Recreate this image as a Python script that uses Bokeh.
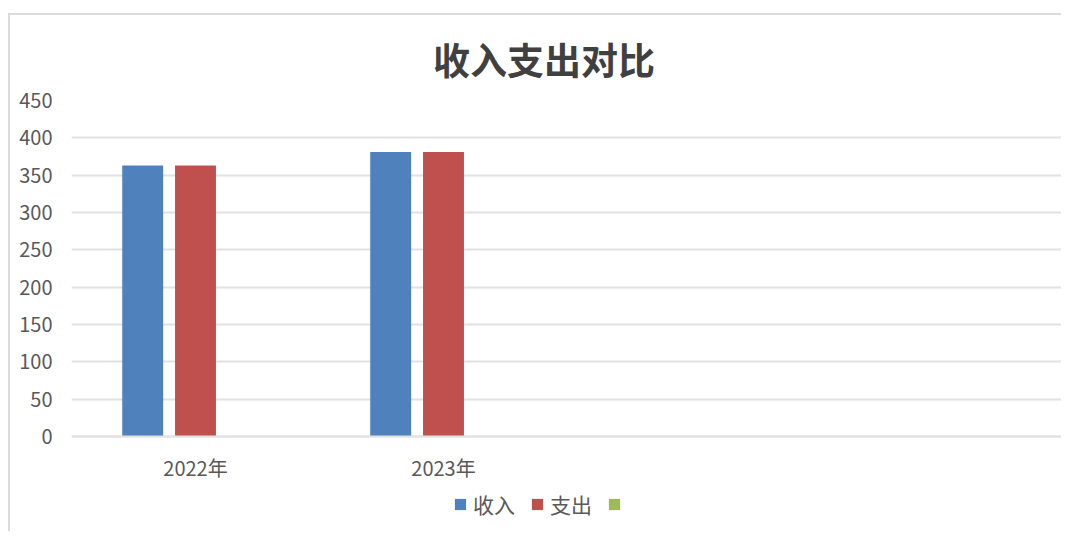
from bokeh.plotting import figure
from bokeh.models import (FactorRange, Range1d, FixedTicker, Legend,
                          LegendItem, ColumnDataSource)
from bokeh.transform import dodge
from bokeh.embed import file_html
from bokeh.resources import INLINE

# ---- data ----
categories = ["2022年", "2023年", " ", "  "]
years = ["2022年", "2023年"]
income = [363, 381]      # 收入
expense = [363, 381]     # 支出
third = [0, 0]           # third (unnamed) series: no visible values
series_names = ["收入", "支出", ""]
colors = ["#4F81BD", "#C0504D", "#9BBB59"]
y_ticks = [0, 50, 100, 150, 200, 250, 300, 350, 400, 450]
title_text = "收入支出对比"

FONT = "Noto Sans CJK SC"
TEXT_COLOR = "#595959"
GRID_COLOR = "#e2e2e2"

# frame: 450 at top, 0 at 337px below; frame extends 89px further down to hold
# the x labels and the legend
y_max = y_ticks[-1]
y_min = y_max - 426 * y_max / 337

p = figure(x_range=FactorRange(*categories), y_range=Range1d(y_min, y_max),
           width=1053, height=518, output_backend="svg", toolbar_location=None,
           min_border_left=61, min_border_right=0, min_border_top=84,
           min_border_bottom=8)
p.styles = {"border-left": "2px solid #dcdcdc", "border-top": "2px solid #dcdcdc",
            "margin-top": "13px", "margin-left": "8px"}
p.outline_line_color = None

# title
p.title.text = title_text
p.title.align = "center"
p.title.padding = (0, 47, 0, 0)
p.title.standoff = 29
p.title.text_font = FONT
p.title.text_font_size = "37px"
p.title.text_font_style = "bold"
p.title.text_color = "#404040"

src_inc = ColumnDataSource(dict(x=years, y=income))
src_exp = ColumnDataSource(dict(x=years, y=expense))
src_3 = ColumnDataSource(dict(x=years, y=third))

pitch = 0.213
bw = 0.165
r1 = p.vbar(x=dodge("x", -pitch, range=p.x_range), top="y", width=bw, source=src_inc,
            fill_color=colors[0], line_color=None)
r2 = p.vbar(x=dodge("x", 0, range=p.x_range), top="y", width=bw, source=src_exp,
            fill_color=colors[1], line_color=None)
r3 = p.vbar(x=dodge("x", pitch, range=p.x_range), top="y", width=bw, source=src_3,
            fill_color=colors[2], line_color=None)

# axes
p.yaxis.ticker = FixedTicker(ticks=y_ticks)
p.yaxis.axis_line_color = None
p.yaxis.major_tick_line_color = None
p.yaxis.minor_tick_line_color = None
p.yaxis.major_label_standoff = 13
p.yaxis.major_label_text_font = FONT
p.yaxis.major_label_text_font_size = "20px"
p.yaxis.major_label_text_color = TEXT_COLOR

p.xaxis.fixed_location = 0
p.xaxis.axis_line_color = GRID_COLOR
p.xaxis.axis_line_width = 2
p.xaxis.major_tick_line_color = None
p.xaxis.minor_tick_line_color = None
p.xaxis.major_label_standoff = 10
p.xaxis.major_label_text_font = FONT
p.xaxis.major_label_text_font_size = "20px"
p.xaxis.major_label_text_color = TEXT_COLOR

p.xgrid.grid_line_color = None
p.ygrid.grid_line_color = GRID_COLOR
p.ygrid.grid_line_width = 2

legend = Legend(items=[LegendItem(label=series_names[0], renderers=[r1]),
                       LegendItem(label=series_names[1], renderers=[r2]),
                       LegendItem(label=series_names[2], renderers=[r3])],
                orientation="horizontal", location=(382, 6))
legend.padding = 0
legend.margin = 0
legend.border_line_color = None
legend.background_fill_alpha = 0
legend.glyph_width = 14
legend.glyph_height = 14
legend.label_standoff = 6
legend.label_width = 47
legend.spacing = 10
legend.label_text_font = FONT
legend.label_text_font_size = "21px"
legend.label_text_color = TEXT_COLOR
p.add_layout(legend, "center")

open("out.html", "w").write(file_html(p, INLINE))
